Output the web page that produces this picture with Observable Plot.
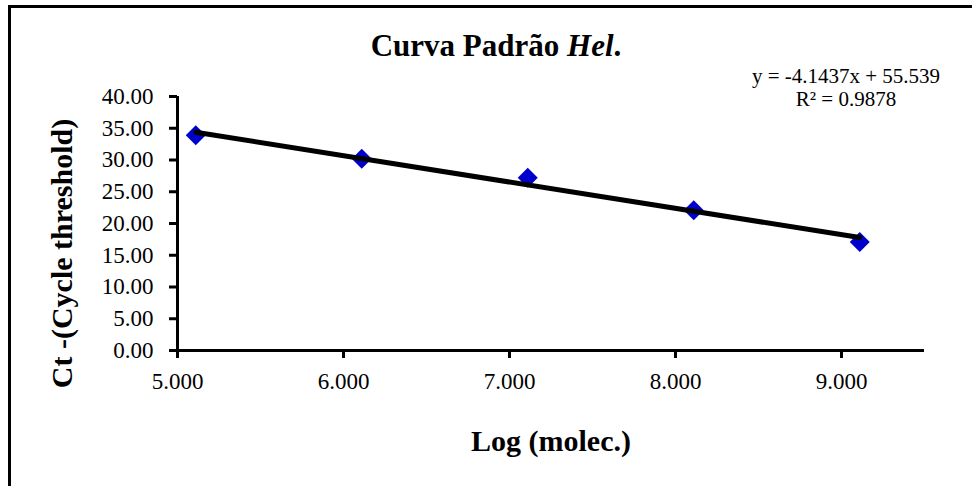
<!DOCTYPE html>
<html>
<head>
<meta charset="utf-8">
<script src="https://cdn.jsdelivr.net/npm/d3@7"></script>
<script src="https://cdn.jsdelivr.net/npm/@observablehq/plot@0.6"></script>
<style>
  html, body { margin: 0; padding: 0; background: #fff; overflow: hidden; }
  #wrap { position: relative; width: 972px; height: 486px; overflow: hidden; font-family: "Liberation Serif", "Times New Roman", serif; color: #000; }
  #frame { position: absolute; left: 8px; top: 5px; width: 1000px; height: 1000px; border-left: 3px solid #000; border-top: 3px solid #000; box-sizing: border-box; }
  #title { position: absolute; left: 10px; width: 972px; top: 30px; text-align: center; font-size: 31px; line-height: 31px; font-weight: bold; white-space: nowrap; }
  #eq { position: absolute; left: 746px; width: 200px; top: 65px; text-align: center; font-size: 21px; line-height: 23px; white-space: nowrap; }
  #chart { position: absolute; left: 0; top: 0; }
</style>
</head>
<body>
<div id="wrap">
  <div id="frame"></div>
  <div id="chart"></div>
  <div id="title">Curva Padrão <i>Hel</i>.</div>
  <div id="eq"></div>
</div>
<script>
// Data
const logMolec = [5.11, 6.11, 7.11, 8.11, 9.11];
const ct = [33.9, 30.2, 27.2, 22.1, 17.1];
const xTicks = [5, 6, 7, 8, 9];
const yTicks = [0, 5, 10, 15, 20, 25, 30, 35, 40];
const slope = -4.1437;
const intercept = 55.539;
const r2 = 0.9878;
const xLabel = "Log (molec.)";
const yLabel = "Ct -(Cycle threshold)";

const points = logMolec.map((x, i) => ({x, y: ct[i]}));
const xExt = d3.extent(logMolec);
const trend = xExt.map(x => ({x, y: intercept + slope * x}));

document.getElementById("eq").innerHTML =
  `y = ${slope}x + ${intercept}<br>R² = ${r2}`;

const chart = Plot.plot({
  width: 972,
  height: 486,
  marginLeft: 177,
  marginRight: 48,
  marginTop: 96,
  marginBottom: 136,
  style: { fontFamily: "Liberation Serif", fontSize: "23px", color: "#000", background: "transparent", overflow: "visible" },
  x: { domain: [5, 9.5] },
  y: { domain: [0, 40] },
  marks: [
    Plot.axisX({ ticks: xTicks, tickFormat: d3.format(".3f"), tickSize: 8, tickPadding: 14, strokeWidth: 3, label: null, fontSize: 23 }),
    Plot.axisY({ ticks: yTicks, tickFormat: d3.format(".2f"), tickSize: 8, tickPadding: 16, strokeWidth: 3, label: null, fontSize: 23 }),
    Plot.ruleY([0], { stroke: "#000", strokeWidth: 3 }),
    Plot.ruleX([5], { stroke: "#000", strokeWidth: 3 }),
    Plot.dot(points, { x: "x", y: "y", symbol: "diamond2", r: 9, fill: "#0000CC", stroke: "none" }),
    Plot.line(trend, { x: "x", y: "y", stroke: "#000", strokeWidth: 5 }),
    Plot.text([xLabel], { text: d => d, frameAnchor: "bottom", dy: 91, lineAnchor: "middle", fontSize: 30, fontWeight: "bold", fill: "#000" }),
    Plot.text([yLabel], { text: d => d, frameAnchor: "left", dx: -115, dy: 30, rotate: -90, lineAnchor: "middle", textAnchor: "middle", fontSize: 30, fontWeight: "bold", fill: "#000" })
  ]
});
document.getElementById("chart").appendChild(chart);
</script>
</body>
</html>
